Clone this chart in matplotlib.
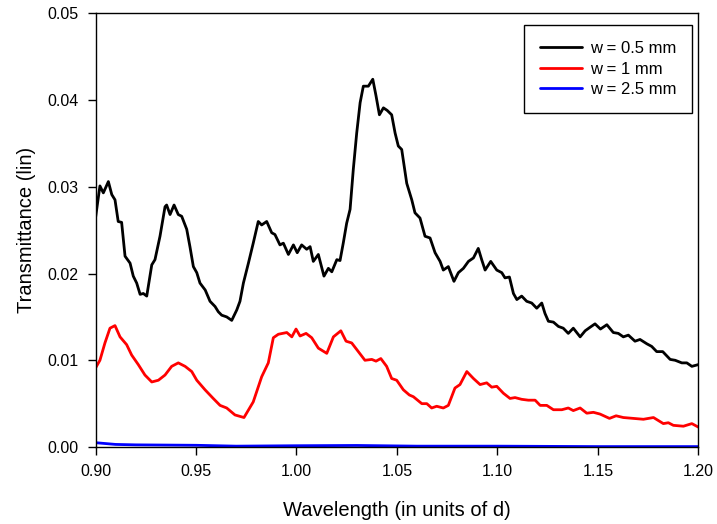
import matplotlib
matplotlib.use("Agg")
import matplotlib.pyplot as plt

plt.rcParams['font.family'] = ['Liberation Sans', 'DejaVu Sans']

# w = 0.5 mm
x_05 = [0.9000, 0.9022, 0.9039, 0.9064, 0.9081, 0.9097, 0.9113, 0.9130, 0.9147, 0.9172,
        0.9188, 0.9205, 0.9222, 0.9238, 0.9255, 0.9271, 0.9280, 0.9296, 0.9321, 0.9346,
        0.9354, 0.9371, 0.9391, 0.9412, 0.9429, 0.9454, 0.9470, 0.9487, 0.9504, 0.9520,
        0.9546, 0.9570, 0.9595, 0.9611, 0.9628, 0.9653, 0.9678, 0.9703, 0.9719, 0.9736,
        0.9761, 0.9785, 0.9810, 0.9827, 0.9852, 0.9877, 0.9893, 0.9918, 0.9935, 0.9960,
        0.9985, 1.0004, 1.0026, 1.0051, 1.0068, 1.0084, 1.0109, 1.0137, 1.0159, 1.0176,
        1.0201, 1.0217, 1.0233, 1.0250, 1.0267, 1.0283, 1.0300, 1.0317, 1.0333, 1.0358,
        1.0380, 1.0396, 1.0413, 1.0433, 1.0452, 1.0474, 1.0491, 1.0507, 1.0524, 1.0549,
        1.0574, 1.0590, 1.0615, 1.0640, 1.0665, 1.0690, 1.0715, 1.0731, 1.0756, 1.0784,
        1.0806, 1.0831, 1.0856, 1.0881, 1.0905, 1.0922, 1.0939, 1.0967, 1.0997, 1.1022,
        1.1038, 1.1060, 1.1080, 1.1097, 1.1121, 1.1146, 1.1171, 1.1196, 1.1221, 1.1237,
        1.1254, 1.1279, 1.1304, 1.1328, 1.1353, 1.1378, 1.1412, 1.1437, 1.1461, 1.1486,
        1.1513, 1.1545, 1.1577, 1.1602, 1.1627, 1.1652, 1.1685, 1.1710, 1.1744, 1.1768,
        1.1793, 1.1823, 1.1860, 1.1885, 1.1918, 1.1943, 1.1968, 1.2000]
t_05 = [0.0264, 0.0301, 0.0293, 0.0306, 0.0291, 0.0285, 0.0260, 0.0259, 0.0220, 0.0212,
        0.0197, 0.0189, 0.0176, 0.0177, 0.0174, 0.0197, 0.0210, 0.0216, 0.0243, 0.0277,
        0.0279, 0.0268, 0.0279, 0.0268, 0.0266, 0.0251, 0.0231, 0.0208, 0.0201, 0.0189,
        0.0181, 0.0168, 0.0162, 0.0156, 0.0152, 0.0150, 0.0146, 0.0158, 0.0168, 0.0189,
        0.0212, 0.0235, 0.0260, 0.0256, 0.0260, 0.0247, 0.0245, 0.0233, 0.0235, 0.0222,
        0.0233, 0.0224, 0.0233, 0.0228, 0.0231, 0.0214, 0.0222, 0.0197, 0.0206, 0.0202,
        0.0216, 0.0215, 0.0235, 0.0258, 0.0274, 0.0320, 0.0362, 0.0397, 0.0416, 0.0416,
        0.0424, 0.0405, 0.0383, 0.0391, 0.0388, 0.0383, 0.0362, 0.0347, 0.0343, 0.0304,
        0.0285, 0.0270, 0.0264, 0.0243, 0.0241, 0.0224, 0.0214, 0.0204, 0.0208, 0.0191,
        0.0201, 0.0206, 0.0214, 0.0218, 0.0229, 0.0216, 0.0204, 0.0214, 0.0204, 0.0201,
        0.0195, 0.0196, 0.0177, 0.0170, 0.0174, 0.0168, 0.0166, 0.0160, 0.0166, 0.0154,
        0.0145, 0.0144, 0.0139, 0.0137, 0.0131, 0.0137, 0.0127, 0.0134, 0.0138, 0.0142,
        0.0136, 0.0141, 0.0132, 0.0131, 0.0127, 0.0129, 0.0122, 0.0124, 0.0119, 0.0116,
        0.0110, 0.0110, 0.0101, 0.0100, 0.0097, 0.0097, 0.0093, 0.0095]

# w = 1 mm
x_1 = [0.9000, 0.9022, 0.9047, 0.9072, 0.9097, 0.9122, 0.9155, 0.9180, 0.9213, 0.9246,
       0.9280, 0.9313, 0.9346, 0.9379, 0.9412, 0.9446, 0.9479, 0.9504, 0.9545, 0.9586,
       0.9620, 0.9653, 0.9694, 0.9739, 0.9785, 0.9827, 0.9860, 0.9885, 0.9910, 0.9952,
       0.9977, 0.9998, 1.0018, 1.0048, 1.0076, 1.0109, 1.0151, 1.0184, 1.0221, 1.0247,
       1.0275, 1.0308, 1.0341, 1.0375, 1.0396, 1.0420, 1.0449, 1.0474, 1.0499, 1.0532,
       1.0562, 1.0582, 1.0624, 1.0649, 1.0673, 1.0698, 1.0731, 1.0756, 1.0789, 1.0814,
       1.0848, 1.0881, 1.0914, 1.0947, 1.0972, 1.0997, 1.1030, 1.1063, 1.1088, 1.1121,
       1.1154, 1.1188, 1.1213, 1.1246, 1.1279, 1.1321, 1.1353, 1.1378, 1.1412, 1.1445,
       1.1478, 1.1511, 1.1558, 1.1591, 1.1627, 1.1677, 1.1727, 1.1777, 1.1826, 1.1851,
       1.1876, 1.1926, 1.1968, 1.2000]
t_1 = [0.0091, 0.0100, 0.0120, 0.0137, 0.0140, 0.0127, 0.0118, 0.0106, 0.0095, 0.0083,
       0.0075, 0.0077, 0.0083, 0.0093, 0.0097, 0.0093, 0.0087, 0.0077, 0.0066, 0.0056,
       0.0048, 0.0045, 0.0037, 0.0034, 0.0052, 0.0081, 0.0097, 0.0126, 0.0130, 0.0132,
       0.0127, 0.0136, 0.0128, 0.0131, 0.0126, 0.0114, 0.0108, 0.0127, 0.0134, 0.0122,
       0.0120, 0.0110, 0.0100, 0.0101, 0.0099, 0.0102, 0.0093, 0.0079, 0.0077, 0.0066,
       0.0060, 0.0058, 0.0050, 0.0050, 0.0045, 0.0047, 0.0045, 0.0048, 0.0068, 0.0072,
       0.0087, 0.0079, 0.0072, 0.0074, 0.0069, 0.0070, 0.0062, 0.0056, 0.0057, 0.0055,
       0.0054, 0.0054, 0.0048, 0.0048, 0.0043, 0.0043, 0.0045, 0.0042, 0.0045, 0.0039,
       0.0040, 0.0038, 0.0033, 0.0036, 0.0034, 0.0033, 0.0032, 0.0034, 0.0027, 0.0028,
       0.0025, 0.0024, 0.0027, 0.0023]

# w = 2.5 mm
x_25 = [0.900, 0.905, 0.910, 0.920, 0.950, 0.970, 1.000, 1.030, 1.060, 1.100, 1.150, 1.200]
t_25 = [0.0005, 0.0004, 0.0003, 0.00025, 0.0002, 0.0001, 0.00015, 0.00018, 0.0001, 0.0001,
        0.00005, 0.00005]

fig = plt.figure(figsize=(7.17, 5.24), dpi=100)
ax = fig.add_axes([0.1332, 0.1469, 0.8407, 0.8277])

style = dict(lw=2.0, solid_joinstyle="round", solid_capstyle="round")
ax.plot(x_05, t_05, color="black", label="w = 0.5 mm", **style)
ax.plot(x_1, t_1, color="red", label="w = 1 mm", **style)
ax.plot(x_25, t_25, color="blue", label="w = 2.5 mm", **style)

ax.set_xlim(0.90, 1.20)
ax.set_ylim(0.0, 0.05)
ax.set_xticks([0.90, 0.95, 1.00, 1.05, 1.10, 1.15, 1.20])
ax.set_xticklabels(["0.90", "0.95", "1.00", "1.05", "1.10", "1.15", "1.20"])
ax.set_yticks([0.00, 0.01, 0.02, 0.03, 0.04, 0.05])
ax.set_yticklabels(["0.00", "0.01", "0.02", "0.03", "0.04", "0.05"])
ax.tick_params(direction="out", length=6, width=1, labelsize=11.5)
ax.tick_params(axis="x", pad=6)
ax.tick_params(axis="y", pad=6)
for s in ax.spines.values():
    s.set_linewidth(1)

ax.set_xlabel("Wavelength (in units of d)", fontsize=14.5, labelpad=16)
ax.set_ylabel("Transmittance (lin)", fontsize=14.5, labelpad=8)

leg = ax.legend(loc="upper right", bbox_to_anchor=(0.990, 0.972), borderaxespad=0,
                fontsize=12, fancybox=False, framealpha=1, edgecolor="black",
                handlelength=2.5, handletextpad=0.5, borderpad=0.95, labelspacing=0.33)
leg.get_frame().set_linewidth(1)

fig.savefig("out.png", dpi=100)
